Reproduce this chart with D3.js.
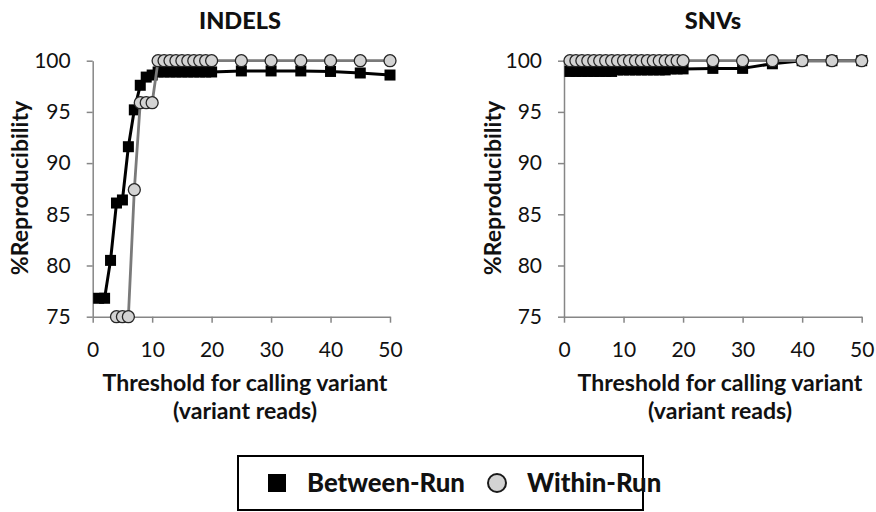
<!DOCTYPE html>
<html><head><meta charset="utf-8">
<script src="https://cdn.jsdelivr.net/npm/d3@7/dist/d3.min.js"></script>
<style>
body{margin:0;background:#fff}
svg{display:block}
text{font-family:Lato,"Open Sans",sans-serif}
</style>
</head><body>
<svg id="chart" width="876" height="512"></svg>
<script>
// ---- data ----
const thresholds = [1,2,3,4,5,6,7,8,9,10,11,12,13,14,15,16,17,18,19,20,25,30,35,40,45,50];
const indelsBetween = [76.8,76.8,80.5,86.1,86.4,91.6,95.2,97.6,98.4,98.6,98.9,98.9,98.9,98.9,98.9,98.9,98.9,98.9,98.9,98.9,99.0,99.0,99.0,98.95,98.8,98.6];
const indelsWithin = [null,null,null,75,75,75,87.4,95.9,95.9,95.9,100,100,100,100,100,100,100,100,100,100,100,100,100,100,100,100];
const snvBetween = [98.95,98.95,98.95,98.95,98.95,98.95,98.95,98.95,99.1,99.1,99.1,99.1,99.1,99.1,99.1,99.1,99.1,99.2,99.2,99.2,99.25,99.25,99.7,100,100,100];
const snvWithin = [100,100,100,100,100,100,100,100,100,100,100,100,100,100,100,100,100,100,100,100,100,100,100,100,100,100];
const xTicks = [0,10,20,30,40,50];
const yTicks = [75,80,85,90,95,100];
const panelTitles = ["INDELS","SNVs"];
const seriesNames = ["Between-Run","Within-Run"];
const xTitle = ["Threshold for calling variant","(variant reads)"];
const yTitle = "%Reproducibility";

// ---- layout ----
const svg = d3.select("#chart");
const axisColor = "#868686";
const yTop = 60.7, yBot = 316.7;
const panels = [
  {title: panelTitles[0], x0: 92.7, x1: 390, between: indelsBetween, within: indelsWithin, titleX: 240, yLabX: 21, xTitleX: 245},
  {title: panelTitles[1], x0: 564, x1: 861.7, between: snvBetween, within: snvWithin, titleX: 713, yLabX: 494, xTitleX: 720}
];

function fit(sel, target, base) {
  const w = sel.node().getComputedTextLength();
  const s = (base * target / w).toFixed(2) + "px";
  sel.style("font-size", s);
  return s;
}
let titleSize = null;

panels.forEach((p, i) => {
  const x = d3.scaleLinear().domain([0, 50]).range([p.x0, p.x1]);
  const y = d3.scaleLinear().domain([75, 100]).range([yBot, yTop]);
  const g = svg.append("g");

  // axes
  const xa = g.append("g").attr("transform", `translate(0,${yBot})`)
    .call(d3.axisBottom(x).tickValues(xTicks).tickSize(6).tickSizeOuter(0).tickPadding(19));
  const ya = g.append("g").attr("transform", `translate(${p.x0},0)`)
    .call(d3.axisLeft(y).tickValues(yTicks).tickSize(6).tickSizeOuter(0).tickPadding(16));
  [xa, ya].forEach(a => {
    a.selectAll("path,line").attr("stroke", axisColor).attr("stroke-width", 1.5);
    a.selectAll("text").attr("fill", "#111").style("font-size", "21px").attr("font-family", "Lato");
  });

  // titles
  const t = g.append("text").attr("x", p.titleX).attr("y", 29).attr("text-anchor", "middle")
    .attr("font-weight", "900").style("font-size", "20px").attr("fill", "#111").text(p.title);
  if (i === 0) titleSize = fit(t, 82, 20); else t.style("font-size", titleSize);

  const xt1 = g.append("text").attr("x", p.xTitleX).attr("y", 391).attr("text-anchor", "middle")
    .attr("font-weight", "bold").style("font-size", "20px").attr("fill", "#111").text(xTitle[0]);
  const fs = fit(xt1, 285, 20);
  g.append("text").attr("x", p.xTitleX).attr("y", 419).attr("text-anchor", "middle")
    .attr("font-weight", "bold").style("font-size", fs).attr("fill", "#111").text(xTitle[1]);

  g.append("text").attr("transform", `translate(${p.yLabX + 7},${188}) rotate(-90)`)
    .attr("text-anchor", "middle").attr("font-weight", "bold").style("font-size", fs)
    .attr("fill", "#111").text(yTitle);

  // data
  const bData = thresholds.map((d, k) => ({x: d, y: p.between[k]})).filter(d => d.y != null);
  const wData = thresholds.map((d, k) => ({x: d, y: p.within[k]})).filter(d => d.y != null);
  const line = d3.line().x(d => x(d.x)).y(d => y(d.y));

  g.append("path").datum(bData).attr("d", line).attr("fill", "none")
    .attr("stroke", "#000").attr("stroke-width", 3).attr("stroke-linejoin", "round");
  g.selectAll(".sq").data(bData).join("rect").attr("class", "sq")
    .attr("x", d => x(d.x) - 5.5).attr("y", d => y(d.y) - 5.5)
    .attr("width", 11).attr("height", 11).attr("fill", "#000");

  g.append("path").datum(wData).attr("d", line).attr("fill", "none")
    .attr("stroke", "#7a7a7a").attr("stroke-width", 2.8).attr("stroke-linejoin", "round");
  g.selectAll(".ci").data(wData).join("circle").attr("class", "ci")
    .attr("cx", d => x(d.x)).attr("cy", d => y(d.y)).attr("r", 6)
    .attr("fill", "#d3d3d3").attr("stroke", "#262626").attr("stroke-width", 1.3);
});

// ---- legend ----
const lg = svg.append("g");
lg.append("rect").attr("x", 238).attr("y", 456).attr("width", 405).attr("height", 54)
  .attr("fill", "#fff").attr("stroke", "#000").attr("stroke-width", 2);
lg.append("rect").attr("x", 268).attr("y", 474).attr("width", 18).attr("height", 18).attr("fill", "#000");
const l1 = lg.append("text").attr("x", 307).attr("y", 492).attr("font-weight", "900")
  .style("font-size", "22px").attr("fill", "#111").text(seriesNames[0]);
const ls = fit(l1, 158, 22);
lg.append("circle").attr("cx", 497).attr("cy", 483).attr("r", 9)
  .attr("fill", "#d3d3d3").attr("stroke", "#1a1a1a").attr("stroke-width", 2);
lg.append("text").attr("x", 527).attr("y", 492).attr("font-weight", "900")
  .style("font-size", ls).attr("fill", "#111").text(seriesNames[1]);
</script>
</body></html>
